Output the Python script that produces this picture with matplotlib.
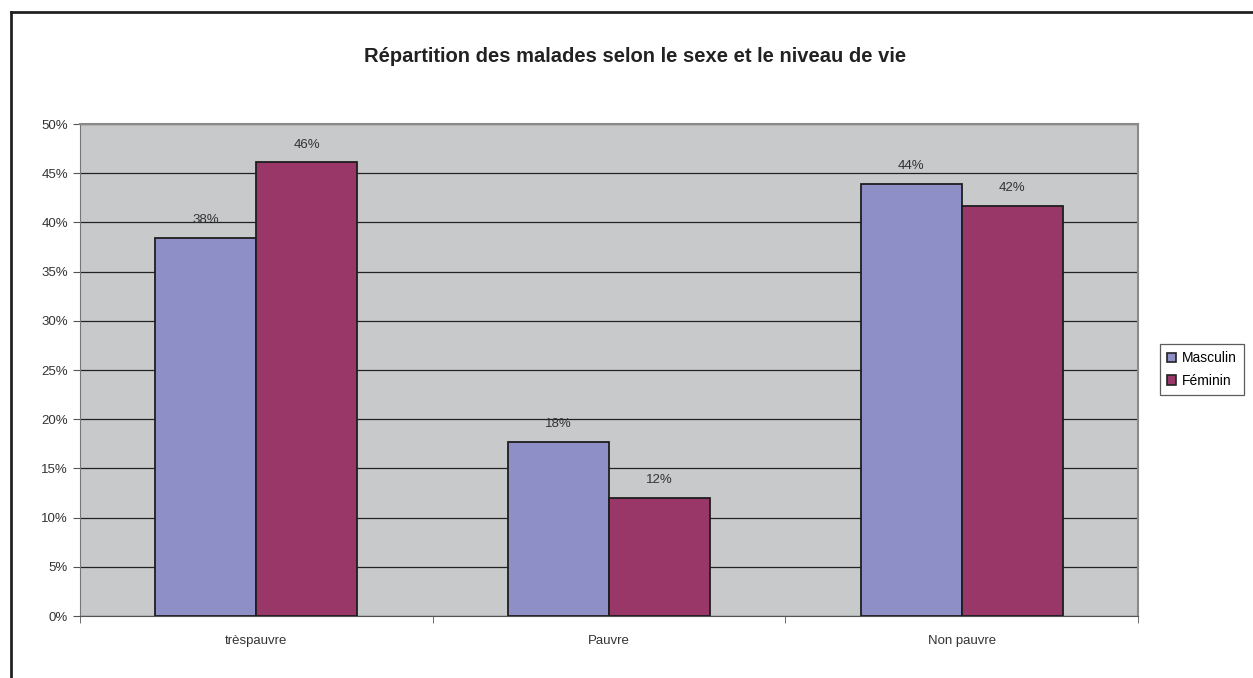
import matplotlib
matplotlib.use("Agg")
import matplotlib.pyplot as plt
from matplotlib.lines import Line2D
import numpy as np

# data
categories = ["trèspauvre", "Pauvre", "Non pauvre"]
masculin = [38.4, 17.7, 43.9]
feminin = [46.1, 12.0, 41.7]
masc_labels = ["38%", "18%", "44%"]
fem_labels = ["46%", "12%", "42%"]
yticks = [0, 5, 10, 15, 20, 25, 30, 35, 40, 45, 50]

plt.rcParams['font.family'] = ['Liberation Sans', 'DejaVu Sans']

fig = plt.figure(figsize=(12.53, 6.78), dpi=100)
ax = fig.add_axes([0.0638, 0.0914, 0.8444, 0.7257])
ax.set_facecolor('#c8c9cb')

x = np.arange(len(categories))
w = 0.286
b1 = ax.bar(x - w / 2, masculin, w, color='#8f8fc8', edgecolor='#1e1e1e',
            linewidth=1.3, label='Masculin', zorder=3)
b2 = ax.bar(x + w / 2, feminin, w, color='#993868', edgecolor='#1e1e1e',
            linewidth=1.3, label='Féminin', zorder=3)

for rect, lab in zip(b1, masc_labels):
    ax.text(rect.get_x() + rect.get_width() / 2, rect.get_height() + 1.2, lab,
            ha='center', va='bottom', fontsize=9.5, color='#333333', zorder=4)
for rect, lab in zip(b2, fem_labels):
    ax.text(rect.get_x() + rect.get_width() / 2, rect.get_height() + 1.2, lab,
            ha='center', va='bottom', fontsize=9.5, color='#333333', zorder=4)

ax.set_xlim(-0.5, len(categories) - 0.5)
ax.set_ylim(0, 50)
ax.set_yticks(yticks)
ax.set_yticklabels([f"{t}%" for t in yticks], fontsize=9.5, color='#333333')
ax.yaxis.grid(True, color='#222222', linewidth=0.9, zorder=1)
ax.set_axisbelow(True)

# category labels centred, ticks on category boundaries
ax.set_xticks(x)
ax.set_xticklabels(categories, fontsize=9.5, color='#333333')
ax.tick_params(axis='x', length=0, pad=14)
ax.set_xticks(np.arange(len(categories) + 1) - 0.5, minor=True)
ax.tick_params(axis='x', which='minor', length=5, direction='out', color='#555555')
ax.tick_params(axis='y', length=5, direction='out', color='#555555')

for side in ['top', 'right']:
    ax.spines[side].set_color('#8a8a8a')
    ax.spines[side].set_linewidth(1.5)
ax.spines['left'].set_color('#777777')
ax.spines['bottom'].set_color('#555555')

fig.text(0.507, 0.916, 'Répartition des malades selon le sexe et le niveau de vie',
         ha='center', va='center', fontsize=14.5, fontweight='bold', color='#222222')

leg = fig.legend(loc='center left', bbox_to_anchor=(0.9255, 0.455), fontsize=10,
                 frameon=True, fancybox=False, edgecolor='#333333',
                 handlelength=0.7, handleheight=0.7, handletextpad=0.4,
                 borderpad=0.5, labelspacing=0.6, borderaxespad=0)
leg.get_frame().set_linewidth(0.9)
for h in leg.legend_handles:
    h.set_edgecolor('#222222')
    h.set_linewidth(1.2)

# partial outer frame (top and left, as in the cropped reference)
fig.add_artist(Line2D([0.0088, 0.0088], [0.0, 0.9823], transform=fig.transFigure,
                      color='#222222', linewidth=2))
fig.add_artist(Line2D([0.0088, 1.0], [0.9823, 0.9823], transform=fig.transFigure,
                      color='#222222', linewidth=2))

fig.savefig('out.png', dpi=100)
